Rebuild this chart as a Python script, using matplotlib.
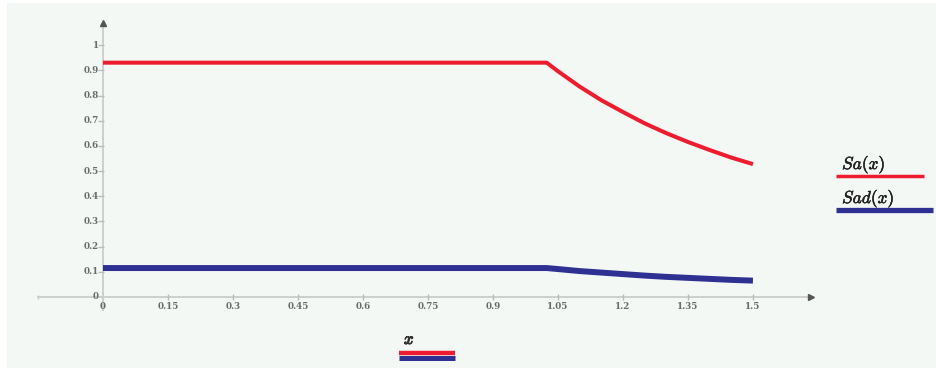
import numpy as np
import matplotlib.pyplot as plt
import matplotlib.patheffects as pe
from matplotlib.patches import Rectangle

plt.rcParams['mathtext.fontset'] = 'cm'

# Espectro de resposta elástico Sa(x) e de cálculo Sad(x)
x = [0, 1.024, 1.05, 1.1, 1.15, 1.2, 1.25, 1.3, 1.35, 1.4, 1.45, 1.5]
Sa = [0.931, 0.931, 0.897, 0.836, 0.782, 0.735, 0.690, 0.651, 0.616, 0.584, 0.554, 0.528]
Sad = [0.115, 0.115, 0.111, 0.103, 0.097, 0.091, 0.085, 0.080, 0.076, 0.072, 0.068, 0.065]

xticks = [0, 0.15, 0.3, 0.45, 0.6, 0.75, 0.9, 1.05, 1.2, 1.35, 1.5]
xlabels = ['0', '0.15', '0.3', '0.45', '0.6', '0.75', '0.9', '1.05', '1.2', '1.35', '1.5']
yticks = [0.1, 0.2, 0.3, 0.4, 0.5, 0.6, 0.7, 0.8, 0.9, 1]
ylabels = ['0.1', '0.2', '0.3', '0.4', '0.5', '0.6', '0.7', '0.8', '0.9', '1']

W, H = 937, 373
fig = plt.figure(figsize=(W / 100, H / 100), dpi=100)
fig.patch.set_facecolor('white')
fig.patches.append(Rectangle((7 / W, 5 / H), 1 - 7 / W, 1 - 8 / H,
                             transform=fig.transFigure, facecolor='#f4f8f5',
                             edgecolor='none', zorder=-10))

ax = fig.add_axes([0, 0, 1, 1])
ax.set_xlim(-0.2377, 1.9248)
ax.set_ylim(-0.302, 1.180)
ax.axis('off')

def px(a, b):
    # pixel -> fração dos eixos
    return a / W, 1 - b / H

axcol = '#cbcbcb'
tcol = '#6a6a6a'
tfont = dict(family='DejaVu Serif', fontsize=6.3, color=tcol, weight='bold')
bold = [pe.withStroke(linewidth=0.4, foreground='#222222')]

# eixos cruzados
ax.plot([-0.15, 1.63], [0, 0], color=axcol, lw=1.3, zorder=1)
ax.plot([0, 0], [-0.05, 1.085], color=axcol, lw=1.3, zorder=1)
ax.plot(1.633, 0, marker='>', ms=4.5, color='#555555', zorder=2)
ax.plot(0, 1.09, marker='^', ms=4.5, color='#555555', zorder=2)
ax.plot(-0.15, 0, marker='|', ms=3, color=axcol, zorder=1)

for t, lab in zip(xticks, xlabels):
    if t > 0:
        ax.plot(t, 0, marker='|', ms=4, color='#bbbbbb', zorder=1)
    ax.text(t, -0.018, lab, ha='center', va='top', **tfont)
for t, lab in zip(yticks, ylabels):
    ax.plot(-0.004, t, marker='_', ms=4, color='#bbbbbb', zorder=1)
    ax.text(-0.009, t, lab, ha='right', va='center', **tfont)
ax.text(-0.009, 0, '0', ha='right', va='center', **tfont)

red = '#ed1c2e'
blue = '#2e3192'
ax.plot(x, Sa, color=red, lw=2.9, solid_capstyle='butt', zorder=3)
ax.plot(x, Sad, color=blue, lw=4.3, solid_capstyle='butt', zorder=3)

# legenda à direita
tr = ax.transAxes
ax.text(*px(842, 169), r'$Sa(x)$', transform=tr, fontsize=12.5, color='#222222',
        path_effects=bold)
ax.plot(*zip(px(836, 176), px(924, 176)), transform=tr, color=red, lw=2.5,
        solid_capstyle='butt', clip_on=False)
ax.text(*px(842, 203), r'$Sad(x)$', transform=tr, fontsize=12.5, color='#222222',
        path_effects=bold)
ax.plot(*zip(px(836, 210), px(933, 210)), transform=tr, color=blue, lw=3.8,
        solid_capstyle='butt', clip_on=False)

# rótulo do eixo x
ax.text(*px(404, 344), r'$x$', transform=tr, fontsize=12, color='#333333',
        path_effects=[pe.withStroke(linewidth=0.8, foreground='#333333')])
ax.plot(*zip(px(399, 352.5), px(455, 352.5)), transform=tr, color=red, lw=3.2,
        solid_capstyle='butt', clip_on=False)
ax.plot(*zip(px(399, 357.5), px(455, 357.5)), transform=tr, color=blue, lw=3.6,
        solid_capstyle='butt', clip_on=False)

fig.savefig('out.png', dpi=100, facecolor=fig.get_facecolor())
